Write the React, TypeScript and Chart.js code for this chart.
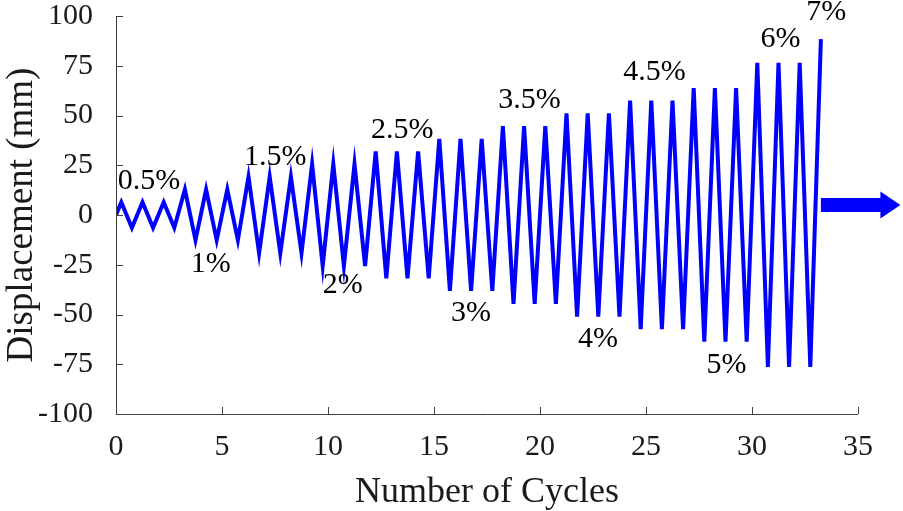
import React, { useEffect, useRef } from "react";
import { Chart, registerables } from "chart.js";

Chart.register(...registerables);

const FONT = '"Liberation Serif", "Times New Roman", serif';
const TEXT_COLOR = "#1a1a1a";
const AXIS_COLOR = "#404040";
const LINE_COLOR = "#0000ff";

// Peak displacement (mm) of each loading cycle, in cycle order (last one is the 7% half cycle)
const positivePeaks = [
  6.4, 6.4, 6.4,
  12.8, 12.8, 12.8,
  19.2, 19.2, 19.2,
  25.6, 25.6, 25.6,
  32.0, 32.0, 32.0,
  38.3, 38.3, 38.3,
  44.7, 44.7, 44.7,
  51.1, 51.1, 51.1,
  57.5, 57.5, 57.5,
  63.8, 63.8, 63.8,
  76.5, 76.5, 76.5,
  88.4,
];

// Trough displacement (mm) of each loading cycle
const negativePeaks = [
  -6.4, -6.4, -6.4,
  -12.6, -12.6, -12.6,
  -19.2, -19.2, -19.2,
  -25.6, -25.6, -25.6,
  -31.8, -31.8, -31.8,
  -38.1, -38.1, -38.1,
  -44.7, -44.7, -44.7,
  -51.1, -51.1, -51.1,
  -57.4, -57.4, -57.4,
  -63.7, -63.7, -63.7,
  -76.3, -76.3, -76.3,
];

// Drift level labels
const driftLabels = ["0.5%", "1%", "1.5%", "2%", "2.5%", "3%", "3.5%", "4%", "4.5%", "5%", "6%", "7%"];
const driftLabelCycle = [1.56, 4.47, 7.51, 10.7, 13.5, 16.75, 19.5, 22.74, 25.4, 28.8, 31.35, 33.5];
const driftLabelDisp = [17.1, -24.6, 29.0, -35.3, 42.7, -49.2, 57.8, -62.3, 71.6, -75.4, 88.4, 101.8];

// Arrow (continuation) in data coordinates
const arrowFrom = [33.25, 5];
const arrowTo = [37.0, 5];

const xTicksMin = 0;
const xTicksMax = 35;
const xStep = 5;
const yTicksMin = -100;
const yTicksMax = 100;
const yStep = 25;

export default function App() {
  const ref = useRef<HTMLCanvasElement | null>(null);

  useEffect(() => {
    if (!ref.current) return;
    const points: { x: number; y: number }[] = [{ x: 0, y: 0 }];
    positivePeaks.forEach((p, i) => {
      points.push({ x: i + 0.25, y: p });
      if (i < negativePeaks.length) points.push({ x: i + 0.75, y: negativePeaks[i] });
    });

    const overlay = {
      id: "overlay",
      afterDatasetsDraw(chart: any) {
        const { ctx, chartArea } = chart;
        const xs = chart.scales.x;
        const ys = chart.scales.y;
        ctx.save();
        // axes
        ctx.strokeStyle = AXIS_COLOR;
        ctx.lineWidth = 1;
        ctx.beginPath();
        ctx.moveTo(chartArea.left + 0.5, chartArea.top);
        ctx.lineTo(chartArea.left + 0.5, chartArea.bottom + 0.5);
        ctx.lineTo(chartArea.right, chartArea.bottom + 0.5);
        ctx.stroke();
        // inward ticks
        const tl = 7;
        ctx.beginPath();
        xs.ticks.forEach((t: any) => {
          const px = Math.round(xs.getPixelForValue(t.value)) + 0.5;
          ctx.moveTo(px, chartArea.bottom);
          ctx.lineTo(px, chartArea.bottom - tl);
        });
        ys.ticks.forEach((t: any) => {
          const py = Math.round(ys.getPixelForValue(t.value)) + 0.5;
          ctx.moveTo(chartArea.left, py);
          ctx.lineTo(chartArea.left + tl, py);
        });
        ctx.stroke();

        // drift labels
        ctx.fillStyle = "#000";
        ctx.font = `30px ${FONT}`;
        ctx.textAlign = "center";
        ctx.textBaseline = "middle";
        driftLabels.forEach((lab, i) => {
          ctx.fillText(lab, xs.getPixelForValue(driftLabelCycle[i]), ys.getPixelForValue(driftLabelDisp[i]));
        });

        // arrow
        const x0 = xs.getPixelForValue(arrowFrom[0]);
        const x1 = xs.getPixelForValue(arrowTo[0]);
        const yc = ys.getPixelForValue(arrowFrom[1]);
        const half = 7;
        const headLen = 20;
        const headHalf = 13.5;
        ctx.fillStyle = LINE_COLOR;
        ctx.beginPath();
        ctx.moveTo(x0, yc - half);
        ctx.lineTo(x1 - headLen, yc - half);
        ctx.lineTo(x1 - headLen, yc - headHalf);
        ctx.lineTo(x1, yc);
        ctx.lineTo(x1 - headLen, yc + headHalf);
        ctx.lineTo(x1 - headLen, yc + half);
        ctx.lineTo(x0, yc + half);
        ctx.closePath();
        ctx.fill();
        ctx.restore();
      },
    };

    const chart = new Chart(ref.current, {
      type: "scatter",
      data: {
        datasets: [
          {
            data: points,
            showLine: true,
            borderColor: LINE_COLOR,
            backgroundColor: LINE_COLOR,
            borderWidth: 4,
            pointRadius: 0,
            fill: false,
            tension: 0,
          },
        ],
      },
      options: {
        animation: false,
        responsive: true,
        maintainAspectRatio: false,
        layout: { padding: { left: 0, right: 45, top: 16, bottom: 0 } },
        plugins: { legend: { display: false }, tooltip: { enabled: false } },
        scales: {
          x: {
            type: "linear",
            min: xTicksMin,
            max: xTicksMax,
            ticks: {
              stepSize: xStep,
              font: { family: FONT, size: 30 },
              color: TEXT_COLOR,
              padding: 7,
              maxRotation: 0,
            },
            grid: { display: false },
            border: { display: false },
            title: {
              display: true,
              text: "Number of Cycles",
              font: { family: FONT, size: 36, lineHeight: 1 },
              color: TEXT_COLOR,
              padding: { top: 2, bottom: 0 },
            },
            afterFit(s: any) {
              s.height = 97;
              s.paddingLeft = 0;
              s.paddingRight = 0;
            },
          },
          y: {
            type: "linear",
            min: yTicksMin,
            max: yTicksMax,
            ticks: {
              stepSize: yStep,
              font: { family: FONT, size: 30 },
              color: TEXT_COLOR,
              padding: 15,
            },
            grid: { display: false },
            border: { display: false },
            title: {
              display: true,
              text: "Displacement (mm)",
              font: { family: FONT, size: 37, lineHeight: 1 },
              color: TEXT_COLOR,
              padding: { top: 4, bottom: 0 },
            },
            afterFit(s: any) {
              s.width = 116;
              s.paddingTop = 0;
              s.paddingBottom = 0;
            },
          },
        },
      },
      plugins: [overlay],
    } as any);
    return () => chart.destroy();
  }, []);

  return (
    <div style={{ position: "absolute", left: 0, top: 0, width: 903, height: 511, background: "#fff" }}>
      <canvas ref={ref} />
    </div>
  );
}
